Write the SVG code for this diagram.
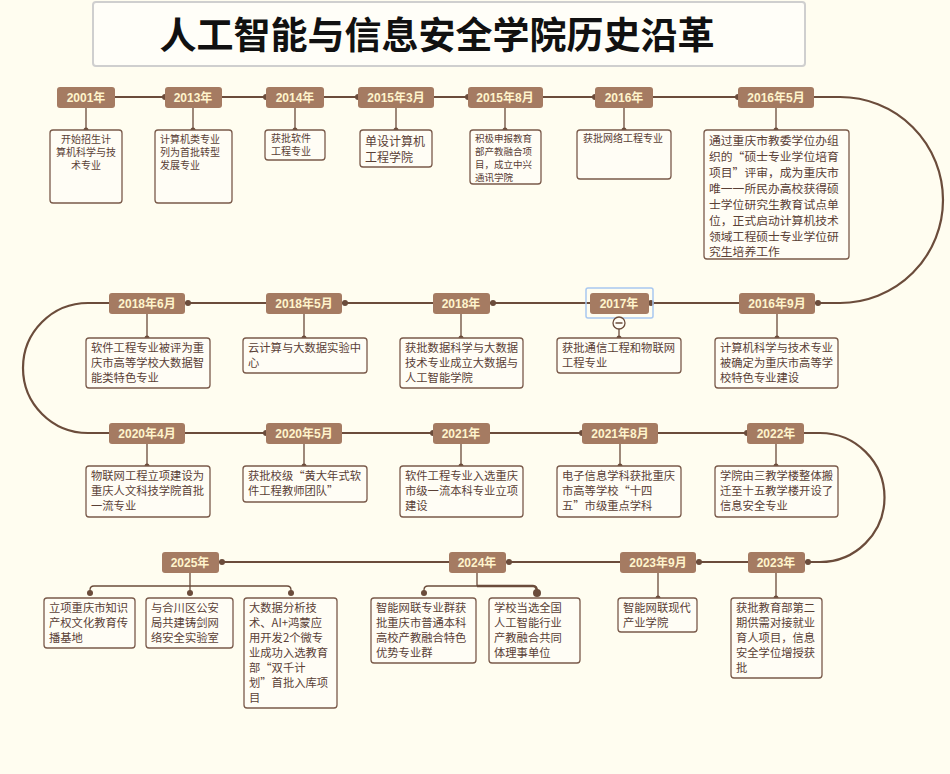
<svg xmlns="http://www.w3.org/2000/svg" width="950" height="774" viewBox="0 0 950 774">
<style>
.lb{fill:#a57b62;}
.lt{fill:#fff4cc;font:bold 12px "Liberation Sans","Noto Sans CJK SC",sans-serif;text-anchor:middle;}
.bx{fill:#fffdf5;stroke:#7a5a4a;stroke-width:1.3;}
.t{fill:#5a4035;font:11.3px "Noto Sans CJK SC",sans-serif;}
.ts{fill:#5a4035;font:10px "Noto Sans CJK SC",sans-serif;}
.ln{fill:none;stroke:#6b4c3b;stroke-width:2.2;}
.sl{fill:none;stroke:#6b4c3b;stroke-width:1.3;}
.d{fill:#6b4c3b;}
</style>
<rect width="950" height="774" fill="#fffdf0"/>
<g id="title"><rect x="93" y="2" width="712" height="64" fill="#fffef8" stroke="#cfcfcf" stroke-width="2" rx="3"/>
<text x="437" y="49" text-anchor="middle" style="font:bold 37px 'Noto Sans CJK SC',sans-serif;fill:#111">人工智能与信息安全学院历史沿革</text></g>
<g id="connectors">
<path class="ln" d="M115 97 H840 A103 103 0 0 1 840 303 H109 H88 A65 65 0 0 0 88 433 H820 A64.5 64.5 0 0 1 820 562 H162"/>
<g class="d">
<circle cx="165" cy="97" r="3"/><circle cx="266" cy="97" r="3"/><circle cx="358" cy="97" r="3"/><circle cx="468" cy="97" r="3"/><circle cx="595" cy="97" r="3"/><circle cx="738" cy="97" r="3"/>
<circle cx="188" cy="303" r="3"/><circle cx="345" cy="303" r="3"/><circle cx="493" cy="303" r="3"/><circle cx="651" cy="303" r="3"/><circle cx="818" cy="303" r="3"/>
<circle cx="266" cy="433" r="3"/><circle cx="433" cy="433" r="3"/><circle cx="582" cy="433" r="3"/><circle cx="747" cy="433" r="3"/>
<circle cx="222" cy="562" r="3"/><circle cx="509" cy="562" r="3"/><circle cx="699" cy="562" r="3"/><circle cx="808" cy="562" r="3"/>
</g>
<path class="sl" d="M86 107V130M193 107V130M295 107V130M396 107V130M505 107V130M624 107V130M776 107V130
M147 313V338M304 313V338M461 313V338M619 329V338M777 313V338
M147 443V466M304 443V466M461 443V466M620 443V466M776 443V466
M190 572V593M90 593V590Q90 586 94 586H287Q291 586 291 590V593
M658 572V598M776 572V598"/>
<path class="sl" d="M477 572V586H428Q424 586 424 590V593"/>
<path fill="none" stroke="#6b4c3b" stroke-width="2.5" d="M477 586H533Q537 586 537 592"/>
<g class="d">
<circle cx="86" cy="130" r="2.5"/><circle cx="193" cy="130" r="2.5"/><circle cx="295" cy="130" r="2.5"/><circle cx="396" cy="130" r="2.5"/><circle cx="505" cy="130" r="2.5"/><circle cx="624" cy="130" r="2.5"/><circle cx="776" cy="130" r="2.5"/>
<circle cx="147" cy="338" r="2.5"/><circle cx="304" cy="338" r="2.5"/><circle cx="461" cy="338" r="2.5"/><circle cx="619" cy="338" r="2.5"/><circle cx="777" cy="338" r="2.5"/>
<circle cx="147" cy="466" r="2.5"/><circle cx="304" cy="466" r="2.5"/><circle cx="461" cy="466" r="2.5"/><circle cx="620" cy="466" r="2.5"/><circle cx="776" cy="466" r="2.5"/>
<circle cx="90" cy="593" r="3"/><circle cx="190" cy="593" r="3"/><circle cx="291" cy="593" r="3"/><circle cx="424" cy="593" r="3"/><circle cx="537" cy="593" r="4"/>
<circle cx="658" cy="598" r="2.5"/><circle cx="776" cy="598" r="2.5"/>
</g>
</g>
<g id="labels">
<g id="l2001"><rect class="lb" x="57" y="87" width="58" height="21" rx="3"/><text class="lt" x="86" y="102">2001年</text></g>
<g id="l2013"><rect class="lb" x="165" y="87" width="57" height="21" rx="3"/><text class="lt" x="193" y="102">2013年</text></g>
<g id="l2014"><rect class="lb" x="266" y="87" width="58" height="21" rx="3"/><text class="lt" x="295" y="102">2014年</text></g>
<g id="l20153"><rect class="lb" x="358" y="87" width="76" height="21" rx="3"/><text class="lt" x="396" y="102">2015年3月</text></g>
<g id="l20158"><rect class="lb" x="468" y="87" width="75" height="21" rx="3"/><text class="lt" x="505" y="102">2015年8月</text></g>
<g id="l2016"><rect class="lb" x="595" y="87" width="58" height="21" rx="3"/><text class="lt" x="624" y="102">2016年</text></g>
<g id="l20165"><rect class="lb" x="738" y="87" width="76" height="21" rx="3"/><text class="lt" x="776" y="102">2016年5月</text></g>
<g id="l20186"><rect class="lb" x="109" y="293" width="76" height="21" rx="3"/><text class="lt" x="147" y="308">2018年6月</text></g>
<g id="l20185"><rect class="lb" x="266" y="293" width="76" height="21" rx="3"/><text class="lt" x="304" y="308">2018年5月</text></g>
<g id="l2018"><rect class="lb" x="433" y="293" width="57" height="21" rx="3"/><text class="lt" x="461" y="308">2018年</text></g>
<g id="l2017"><rect x="586" y="288" width="67" height="30" rx="2" fill="none" stroke="#a9c8f0" stroke-width="1.5"/><rect class="lb" x="590" y="293" width="59" height="21" rx="3"/><text class="lt" x="619" y="308">2017年</text>
<circle cx="619" cy="323" r="6" fill="#fffdf5" stroke="#6b4c3b" stroke-width="1.3"/><path d="M615.5 323H622.5" stroke="#6b4c3b" stroke-width="1.5"/></g>
<g id="l20169"><rect class="lb" x="739" y="293" width="76" height="21" rx="3"/><text class="lt" x="777" y="308">2016年9月</text></g>
<g id="l20204"><rect class="lb" x="109" y="423" width="76" height="21" rx="3"/><text class="lt" x="147" y="438">2020年4月</text></g>
<g id="l20205"><rect class="lb" x="266" y="423" width="76" height="21" rx="3"/><text class="lt" x="304" y="438">2020年5月</text></g>
<g id="l2021"><rect class="lb" x="433" y="423" width="57" height="21" rx="3"/><text class="lt" x="461" y="438">2021年</text></g>
<g id="l20218"><rect class="lb" x="582" y="423" width="76" height="21" rx="3"/><text class="lt" x="620" y="438">2021年8月</text></g>
<g id="l2022"><rect class="lb" x="747" y="423" width="57" height="21" rx="3"/><text class="lt" x="776" y="438">2022年</text></g>
<g id="l2025"><rect class="lb" x="162" y="552" width="57" height="21" rx="3"/><text class="lt" x="190" y="567">2025年</text></g>
<g id="l2024"><rect class="lb" x="449" y="552" width="57" height="21" rx="3"/><text class="lt" x="477" y="567">2024年</text></g>
<g id="l20239"><rect class="lb" x="620" y="552" width="76" height="21" rx="3"/><text class="lt" x="658" y="567">2023年9月</text></g>
<g id="l2023"><rect class="lb" x="748" y="552" width="57" height="21" rx="3"/><text class="lt" x="776" y="567">2023年</text></g>
</g>
<g id="boxes">
<g id="b2001"><rect class="bx" x="50" y="130" width="72" height="73" rx="3"/><text class="ts" text-anchor="middle"><tspan x="86" y="143">开始招生计</tspan><tspan x="86" y="156">算机科学与技</tspan><tspan x="86" y="169">术专业</tspan></text></g>
<g id="b2013"><rect class="bx" x="155" y="130" width="77" height="73" rx="3"/><text class="ts"><tspan x="160" y="143">计算机类专业</tspan><tspan x="160" y="156">列为首批转型</tspan><tspan x="160" y="169">发展专业</tspan></text></g>
<g id="b2014"><rect class="bx" x="265" y="130" width="60" height="30" rx="3"/><text class="ts"><tspan x="271" y="142">获批软件</tspan><tspan x="271" y="155">工程专业</tspan></text></g>
<g id="b20153"><rect class="bx" x="360" y="130" width="72" height="37" rx="3"/><text class="t" style="font-size:12px"><tspan x="365" y="146">单设计算机</tspan><tspan x="365" y="162">工程学院</tspan></text></g>
<g id="b20158"><rect class="bx" x="470" y="130" width="71" height="54" rx="3"/><text class="ts" style="font-size:9.5px"><tspan x="475" y="142">积极申报教育</tspan><tspan x="475" y="155">部产教融合项</tspan><tspan x="475" y="168">目，成立中兴</tspan><tspan x="475" y="181">通讯学院</tspan></text></g>
<g id="b2016"><rect class="bx" x="577" y="130" width="94" height="49" rx="3"/><text class="ts"><tspan x="583" y="142">获批网络工程专业</tspan></text></g>
<g id="b20165"><rect class="bx" x="704" y="130" width="145" height="129" rx="3"/><text class="t" style="font-size:11.8px"><tspan x="709" y="145">通过重庆市教委学位办组</tspan><tspan x="709" y="161">织的“硕士专业学位培育</tspan><tspan x="709" y="177">项目”评审，成为重庆市</tspan><tspan x="709" y="193">唯一一所民办高校获得硕</tspan><tspan x="709" y="209">士学位研究生教育试点单</tspan><tspan x="709" y="225">位，正式启动计算机技术</tspan><tspan x="709" y="241">领域工程硕士专业学位研</tspan><tspan x="709" y="256">究生培养工作</tspan></text></g>
<g id="b20186"><rect class="bx" x="86" y="338" width="124" height="50" rx="3"/><text class="t"><tspan x="91" y="352">软件工程专业被评为重</tspan><tspan x="91" y="367">庆市高等学校大数据智</tspan><tspan x="91" y="382">能类特色专业</tspan></text></g>
<g id="b20185"><rect class="bx" x="243" y="338" width="124" height="35" rx="3"/><text class="t"><tspan x="248" y="352">云计算与大数据实验中</tspan><tspan x="248" y="367">心</tspan></text></g>
<g id="b2018"><rect class="bx" x="400" y="338" width="123" height="50" rx="3"/><text class="t"><tspan x="405" y="352">获批数据科学与大数据</tspan><tspan x="405" y="367">技术专业成立大数据与</tspan><tspan x="405" y="382">人工智能学院</tspan></text></g>
<g id="b2017"><rect class="bx" x="557" y="338" width="124" height="35" rx="3"/><text class="t"><tspan x="562" y="352">获批通信工程和物联网</tspan><tspan x="562" y="367">工程专业</tspan></text></g>
<g id="b20169"><rect class="bx" x="715" y="338" width="123" height="50" rx="3"/><text class="t"><tspan x="720" y="352">计算机科学与技术专业</tspan><tspan x="720" y="367">被确定为重庆市高等学</tspan><tspan x="720" y="382">校特色专业建设</tspan></text></g>
<g id="b20204"><rect class="bx" x="86" y="466" width="124" height="51" rx="3"/><text class="t"><tspan x="91" y="480">物联网工程立项建设为</tspan><tspan x="91" y="495">重庆人文科技学院首批</tspan><tspan x="91" y="510">一流专业</tspan></text></g>
<g id="b20205"><rect class="bx" x="243" y="466" width="124" height="36" rx="3"/><text class="t"><tspan x="248" y="480">获批校级“黄大年式软</tspan><tspan x="248" y="495">件工程教师团队”</tspan></text></g>
<g id="b2021"><rect class="bx" x="400" y="466" width="123" height="51" rx="3"/><text class="t"><tspan x="405" y="480">软件工程专业入选重庆</tspan><tspan x="405" y="495">市级一流本科专业立项</tspan><tspan x="405" y="510">建设</tspan></text></g>
<g id="b20218"><rect class="bx" x="557" y="466" width="124" height="51" rx="3"/><text class="t"><tspan x="562" y="480">电子信息学科获批重庆</tspan><tspan x="562" y="495">市高等学校“十四</tspan><tspan x="562" y="510">五”市级重点学科</tspan></text></g>
<g id="b2022"><rect class="bx" x="715" y="466" width="123" height="51" rx="3"/><text class="t"><tspan x="720" y="480">学院由三教学楼整体搬</tspan><tspan x="720" y="495">迁至十五教学楼开设了</tspan><tspan x="720" y="510">信息安全专业</tspan></text></g>
<g id="b2025a"><rect class="bx" x="44" y="598" width="91" height="50" rx="3"/><text class="t"><tspan x="49" y="612">立项重庆市知识</tspan><tspan x="49" y="627">产权文化教育传</tspan><tspan x="49" y="642">播基地</tspan></text></g>
<g id="b2025b"><rect class="bx" x="146" y="598" width="87" height="50" rx="3"/><text class="t"><tspan x="151" y="612">与合川区公安</tspan><tspan x="151" y="627">局共建铸剑网</tspan><tspan x="151" y="642">络安全实验室</tspan></text></g>
<g id="b2025c"><rect class="bx" x="244" y="598" width="93" height="110" rx="3"/><text class="t"><tspan x="249" y="612">大数据分析技</tspan><tspan x="249" y="627">术、AI+鸿蒙应</tspan><tspan x="249" y="642">用开发2个微专</tspan><tspan x="249" y="657">业成功入选教育</tspan><tspan x="249" y="672">部“双千计</tspan><tspan x="249" y="687">划”首批入库项</tspan><tspan x="249" y="702">目</tspan></text></g>
<g id="b2024a"><rect class="bx" x="371" y="598" width="105" height="65" rx="3"/><text class="t"><tspan x="376" y="612">智能网联专业群获</tspan><tspan x="376" y="627">批重庆市普通本科</tspan><tspan x="376" y="642">高校产教融合特色</tspan><tspan x="376" y="657">优势专业群</tspan></text></g>
<g id="b2024b"><rect class="bx" x="489" y="598" width="91" height="65" rx="3"/><text class="t"><tspan x="494" y="612">学校当选全国</tspan><tspan x="494" y="627">人工智能行业</tspan><tspan x="494" y="642">产教融合共同</tspan><tspan x="494" y="657">体理事单位</tspan></text></g>
<g id="b20239"><rect class="bx" x="618" y="598" width="79" height="34" rx="3"/><text class="t"><tspan x="623" y="612">智能网联现代</tspan><tspan x="623" y="627">产业学院</tspan></text></g>
<g id="b2023"><rect class="bx" x="731" y="598" width="91" height="80" rx="3"/><text class="t"><tspan x="736" y="612">获批教育部第二</tspan><tspan x="736" y="627">期供需对接就业</tspan><tspan x="736" y="642">育人项目，信息</tspan><tspan x="736" y="657">安全学位增授获</tspan><tspan x="736" y="672">批</tspan></text></g>
</g>
</svg>
